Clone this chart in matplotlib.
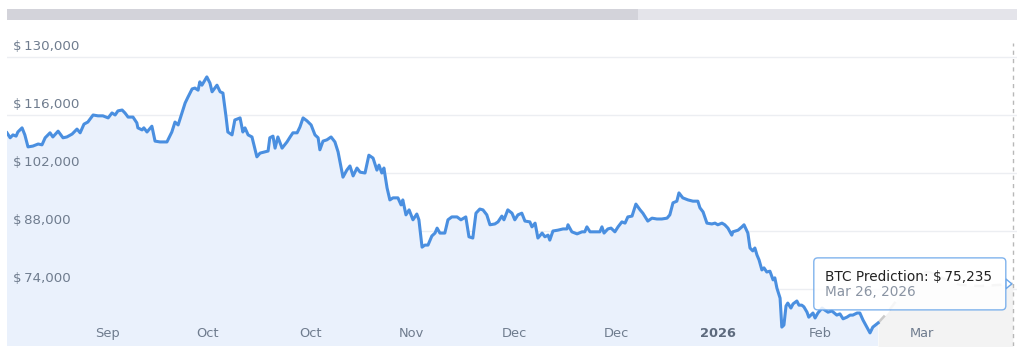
import matplotlib.pyplot as plt
import matplotlib.transforms as mtransforms
from matplotlib.patches import Rectangle, FancyBboxPatch, Polygon

# data (day offsets from chart start, price in USD)
hist_days = [
    0.0, 0.9, 1.7, 2.6, 3.1, 4.3, 5.1, 6.0, 7.4, 8.9, 10.0, 10.9, 12.3, 13.1, 14.6,
    16.0, 17.1, 18.6, 20.0, 20.9, 22.0, 23.1, 24.6, 26.0, 27.4, 28.9, 30.0, 30.9,
    31.7, 32.9, 33.7, 34.6, 36.0, 37.1, 37.4, 38.6, 39.1, 40.0, 41.4, 42.3, 43.7,
    45.7, 47.1, 48.0, 48.9, 50.0, 50.9, 51.7, 52.9, 53.7, 54.6, 55.1, 55.7, 57.1,
    58.0, 58.6, 60.0, 60.9, 61.7, 62.6, 63.1, 64.3, 65.1, 66.6, 67.4, 68.0, 68.9,
    70.0, 71.4, 72.3, 73.7, 74.6, 75.1, 76.0, 76.6, 77.4, 78.6, 80.0, 80.9, 81.7,
    82.9, 83.7, 84.6, 85.7, 86.9, 88.0, 88.9, 89.4, 90.3, 91.4, 92.6, 93.7, 94.6,
    96.0, 97.1, 98.0, 98.9, 100.0, 100.9, 102.3, 103.4, 104.6, 105.7, 106.3, 107.1,
    107.7, 108.6, 109.4, 110.3, 111.7, 112.6, 113.1, 114.0, 114.9, 116.0, 117.1,
    117.7, 118.6, 119.4, 120.3, 121.4, 122.3, 122.9, 123.7, 125.1, 126.0, 127.1,
    128.6, 129.7, 131.1, 132.0, 133.1, 134.0, 135.1, 136.0, 137.1, 138.0, 139.4,
    140.3, 141.4, 142.0, 143.1, 144.3, 145.1, 146.0, 147.1, 148.0, 149.4, 150.0,
    150.9, 151.7, 152.9, 153.7, 154.6, 155.1, 156.0, 157.4, 158.9, 160.0, 160.3,
    161.4, 162.9, 164.3, 165.1, 165.7, 166.6, 168.0, 169.4, 170.0, 170.6, 171.7,
    172.6, 173.7, 174.6, 175.7, 176.6, 177.4, 178.6, 179.7, 180.9, 181.7, 183.1,
    184.3, 185.7, 187.1, 188.6, 189.4, 190.3, 191.4, 192.0, 193.1, 194.6, 196.0,
    197.4, 198.0, 198.9, 200.0, 201.4, 202.3, 203.1, 204.3, 205.1, 206.0, 207.1,
    207.4, 208.9, 210.0, 210.6, 211.7, 212.3, 213.1, 213.7, 214.3, 214.9, 215.7,
    216.3, 217.1, 218.0, 218.9, 219.4, 220.0, 220.9, 221.4, 222.0, 222.6, 223.1,
    224.0, 224.6, 225.7, 226.3, 227.1, 227.7, 228.6, 229.1, 230.3, 230.9, 231.7,
    232.9, 233.7, 234.6, 235.7, 237.1, 238.0, 238.9, 240.0, 240.9, 241.7, 242.9,
    243.7, 244.6, 245.7, 246.6, 247.4, 248.9,
]
hist_price = [
    111700, 110500, 111200, 110900, 111900, 112900, 111200, 108300, 108500, 109000,
    108800, 110500, 111700, 110700, 112100, 110500, 110700, 111400, 112600, 111700,
    113800, 114300, 116000, 115800, 115800, 115300, 116500, 116000, 117000, 117200,
    116500, 115500, 115500, 114100, 112900, 112400, 112900, 111900, 113300, 109700,
    109500, 109500, 111900, 114300, 113600, 116500, 118900, 120300, 122300, 122500,
    122000, 124000, 123200, 125200, 123700, 121600, 123200, 121600, 121300, 115500,
    111900, 111200, 114800, 115300, 111900, 112900, 111200, 110700, 105900, 106800,
    107100, 107300, 110500, 110900, 108000, 110700, 108000, 109500, 110700, 111700,
    111700, 113100, 115300, 114600, 113600, 111200, 110500, 107600, 109700, 110000,
    110700, 109500, 107100, 101000, 102700, 103700, 101300, 103200, 102200, 102000,
    106300, 105600, 102700, 103900, 102000, 103200, 98400, 95500, 96000, 96000,
    94300, 95500, 91900, 93100, 90700, 92100, 90700, 84100, 84600, 84600,
    86800, 87500, 88700, 87500, 87500, 90700, 91400, 91400, 90700, 91400,
    86600, 86300, 92300, 93300, 93100, 91900, 89500, 89700, 90200, 91600,
    90700, 93100, 92300, 90700, 91900, 92300, 90400, 90200, 89000, 89900,
    86300, 87500, 86600, 87000, 85800, 88000, 88200, 88500, 88500, 89500,
    87800, 87300, 87800, 87800, 89000, 87800, 87800, 87800, 89000, 87500,
    88500, 88700, 87800, 89000, 90200, 89900, 91400, 91600, 94500, 93100,
    92300, 90400, 91100, 90900, 90900, 91100, 91900, 94800, 95200, 97200,
    96000, 95500, 95200, 95200, 93600, 92600, 89900, 89700, 89900, 89500,
    89900, 89500, 88700, 87000, 87800, 88200, 89000, 89500, 87500, 83900,
    83200, 83900, 82200, 81000, 78600, 79100, 78100, 78300, 76200, 76700,
    74200, 71800, 64800, 65300, 69900, 70600, 69400, 70400, 71100, 70100,
    70100, 69700, 68400, 67200, 68200, 67000, 68200, 69400, 68900, 68400,
    68700, 67700, 68000, 66800, 67200, 67700, 67700, 68200, 68200, 66500,
    64800, 63400, 64800, 65800,
]
pred_days = [248.9, 251.7, 255.1, 258.6, 261.4, 263.7, 268.0, 272.3, 278.0, 283.7, 287.4]
pred_price = [65800, 68400, 72300, 76200, 78100, 78100, 76400, 75000, 74700, 75000, 75235]

y_ticks = [74000, 88000, 102000, 116000, 130000]
x_tick_days = [28.6, 57.4, 86.6, 115.7, 144.9, 174.0, 203.1, 232.3, 261.4]
x_tick_labels = ['Sep', 'Oct', 'Oct', 'Nov', 'Dec', 'Dec', '2026', 'Feb', 'Mar']

tip_title = 'BTC Prediction: \\$\u200975,235'
tip_date = 'Mar 26, 2026'

W, H = 1024, 362
fig = plt.figure(figsize=(W / 100, H / 100), dpi=100)
ax = fig.add_axes([7 / W, 16 / H, 1010 / W, 316 / H])
ax.set_xlim(0, 288.6)
ax.set_ylim(60240, 136520)

line_blue = '#4a8fe0'
ax.fill_between(hist_days, hist_price, 0, color='#eaf1fc', lw=0, zorder=1)
ax.fill_between(pred_days, pred_price, 0, color='#f3f3f3', lw=0, zorder=1)
ax.plot(hist_days, hist_price, color=line_blue, lw=2.2, solid_joinstyle='round', zorder=4)
ax.plot(pred_days, pred_price, color='#cacaca', lw=1.8, ls=(0, (4, 3)), zorder=3)

# crosshair
ax.axvline(pred_days[-1], ymin=0, ymax=0.96, color='#b8b8b8', lw=1, ls=(0, (3, 3)), zorder=2)

ax.set_yticks(y_ticks)
ax.yaxis.grid(True, color='#eceef2', lw=1, zorder=0)
ax.set_axisbelow(True)
ax.tick_params(length=0, labelleft=False, labelbottom=False)
ax.set_xticks([])
for s in ax.spines.values():
    s.set_visible(False)

for v in y_ticks:
    ax.annotate('\\$\u2009{:,}'.format(v), xy=(0, v), xycoords=('axes fraction', 'data'),
                xytext=(6, 4), textcoords='offset pixels', ha='left', va='bottom',
                fontsize=9.6, color='#6f7c8e', zorder=6)

trans = mtransforms.blended_transform_factory(ax.transData, ax.transAxes)
for d, lbl in zip(x_tick_days, x_tick_labels):
    bold = lbl == '2026'
    ax.text(d, 0.038, lbl, transform=trans, ha='center', va='center', fontsize=9.4,
            color='#5d6a7d' if bold else '#6f7c8e', fontweight='bold' if bold else 'normal',
            zorder=6)

# scrollbar at top
fig.add_artist(Rectangle((7 / W, 1 - 20 / H), 1010 / W, 11 / H, transform=fig.transFigure,
                         color='#e4e4ea', lw=0))
fig.add_artist(Rectangle((7 / W, 1 - 20 / H), 631 / W, 11 / H, transform=fig.transFigure,
                         color='#d3d3da', lw=0))

# tooltip
fig.canvas.draw()
ax_px, ay_px = ax.transData.transform((pred_days[-1], pred_price[-1]))
ident = mtransforms.IdentityTransform()
box = FancyBboxPatch((ax_px - 199, ay_px - 26), 192, 52,
                     boxstyle='round,pad=0,rounding_size=4', transform=ident,
                     facecolor='white', alpha=0.85, edgecolor='#6aa6ea', lw=1, zorder=10)
fig.add_artist(box)
fig.add_artist(Polygon([(ax_px - 7, ay_px + 5), (ax_px - 1, ay_px), (ax_px - 7, ay_px - 5)],
                       closed=True, transform=ident, facecolor='white',
                       edgecolor='#6aa6ea', lw=1, zorder=9))
fig.text((ax_px - 188) / W, (ay_px + 7) / H, tip_title, fontsize=9.8, color='#222222',
         ha='left', va='center', zorder=11)
fig.text((ax_px - 188) / W, (ay_px - 8) / H, tip_date, fontsize=9.8, color='#8a94a3',
         ha='left', va='center', zorder=11)

fig.savefig('out.png', dpi=100)
